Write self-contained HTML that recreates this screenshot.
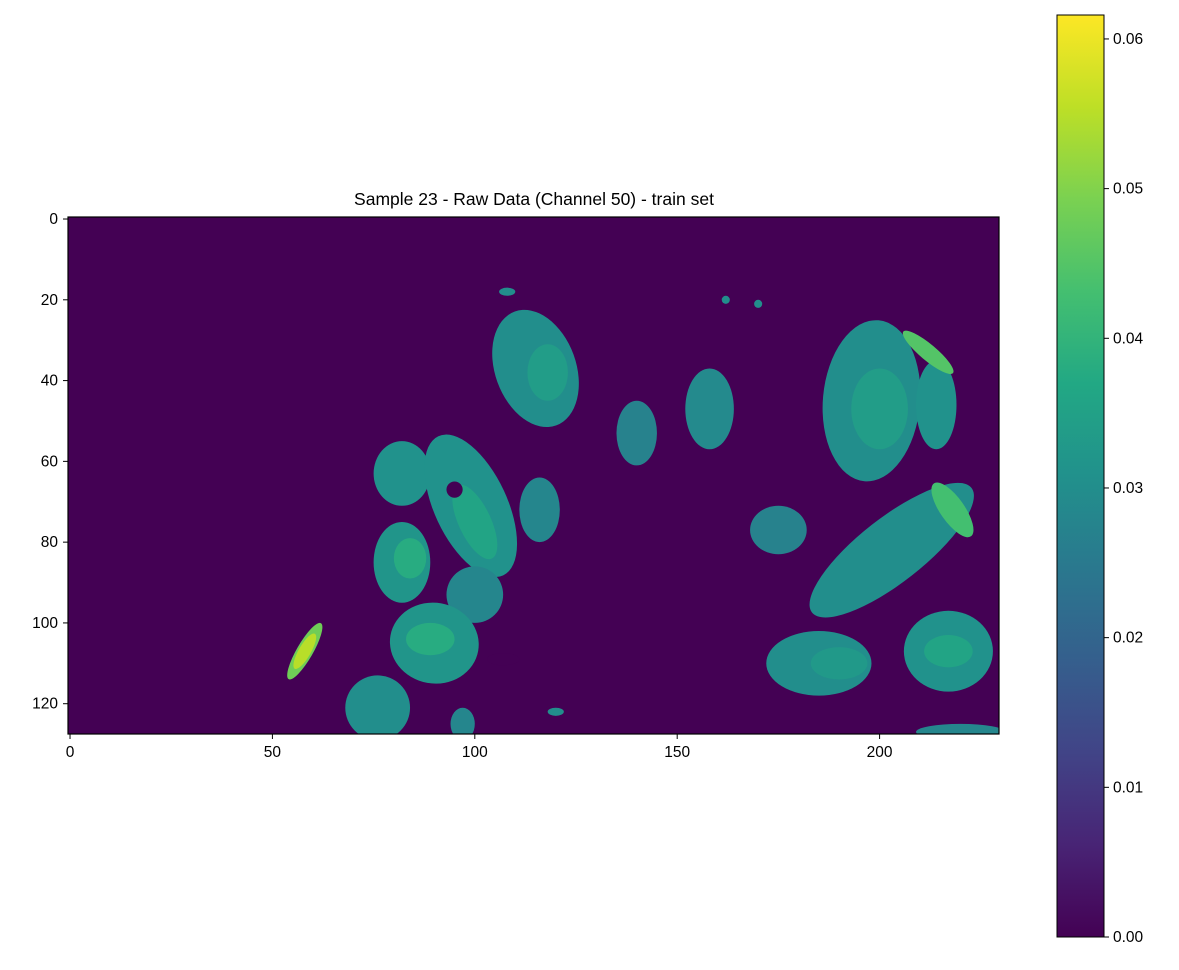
<!DOCTYPE html>
<html><head><meta charset="utf-8"><style>
body{margin:0;background:#fff;}
svg text{font-family:"Liberation Sans",sans-serif;fill:#000;}
</style></head><body>
<svg id="chart" width="1179" height="965" viewBox="0 0 1179 965">
<defs>
<clipPath id="clip"><rect x="68" y="217" width="931" height="517"/></clipPath>
<linearGradient id="vir" x1="0" y1="1" x2="0" y2="0">
<stop offset="0" stop-color="#440154"/><stop offset="0.1" stop-color="#482475"/><stop offset="0.2" stop-color="#414487"/><stop offset="0.3" stop-color="#355f8d"/><stop offset="0.4" stop-color="#2a788e"/><stop offset="0.5" stop-color="#21918c"/><stop offset="0.6" stop-color="#22a884"/><stop offset="0.7" stop-color="#44bf70"/><stop offset="0.8" stop-color="#7ad151"/><stop offset="0.9" stop-color="#bddf26"/><stop offset="1" stop-color="#fde725"/>
</linearGradient>
</defs>
<text x="534" y="205" font-size="17.5" text-anchor="middle">Sample 23 - Raw Data (Channel 50) - train set</text>
<rect x="68" y="217" width="931" height="517" fill="#440154"/>
<g id="blobs" clip-path="url(#clip)"></g>
<rect x="68" y="217" width="931" height="517" fill="none" stroke="#000" stroke-width="1.2"/>
<g id="xticks"></g><g id="yticks"></g>
<rect x="1057" y="15" width="47" height="922" fill="url(#vir)" stroke="#000" stroke-width="1"/>
<g id="cticks"></g>
</svg>
<script>
// blob data: [col, row, rx, ry, rotation, value]
const blobCols = [115,140,158,198,214,82,99,116,82,100,90,76,58,175,203,185,217,220,97,120,162,170,108];
const blobRows = [37,53,47,45,46,63,71,72,85,93,105,121,107,77,82,110,107,127,125,122,20,21,18];
const blobRx   = [10,5,6,12,5,7,9,5,7,7,11,8,2,7,25,13,11,11,3,2,1,1,2];
const blobRy   = [15,8,10,20,11,8,19,8,10,7,10,8,8,6,8,8,10,2,4,1,1,1,1];
const blobRot  = [-20,0,0,5,0,0,-25,0,0,0,10,0,30,0,-38,0,0,0,0,0,0,0,0];
const blobVals = [0.03,0.027,0.029,0.03,0.031,0.031,0.031,0.028,0.032,0.028,0.032,0.03,0.048,0.027,0.03,0.03,0.031,0.028,0.028,0.03,0.03,0.03,0.03];
// brighter cores
const coreCols=[118,200,84,100,89,217,218,212,58,190];
const coreRows=[38,47,84,75,104,107,72,33,107,110];
const coreRx=[5,7,4,4,6,6,3,8,1.5,7];
const coreRy=[7,10,5,10,4,4,8,2,5,4];
const coreRot=[0,0,0,-25,0,0,-35,40,30,0];
const coreVals=[0.034,0.034,0.038,0.036,0.038,0.036,0.043,0.045,0.055,0.033];
const xTicks=[0,50,100,150,200];
const yTicks=[0,20,40,60,80,100,120];
const cTicks=[0,0.01,0.02,0.03,0.04,0.05,0.06];
const cTickLabels=["0.00","0.01","0.02","0.03","0.04","0.05","0.06"];
const VMAX=0.0616;
const sx=c=>68+(c+0.5)*931/230;
const sy=r=>217+(r+0.5)*517/128;
const kx=931/230, ky=517/128;
const cy=v=>937-v/VMAX*922;
const stops=["#440154","#482475","#414487","#355f8d","#2a788e","#21918c","#22a884","#44bf70","#7ad151","#bddf26","#fde725"];
function hex(h){return [1,3,5].map(i=>parseInt(h.substr(i,2),16));}
function vir(v){let t=Math.max(0,Math.min(1,v/VMAX))*10;let i=Math.min(9,Math.floor(t));let f=t-i;let a=hex(stops[i]),b=hex(stops[i+1]);return "rgb("+a.map((x,k)=>Math.round(x+(b[k]-x)*f)).join(",")+")";}
const NS="http://www.w3.org/2000/svg";
const g=document.getElementById('blobs');
function ell(c,r,rx,ry,rot,v,name){const e=document.createElementNS(NS,'ellipse');
e.setAttribute('cx',sx(c));e.setAttribute('cy',sy(r));e.setAttribute('rx',rx*kx);e.setAttribute('ry',ry*ky);
e.setAttribute('transform','rotate('+rot+' '+sx(c)+' '+sy(r)+')');e.setAttribute('fill',vir(v));


g.appendChild(e);}
blobCols.forEach((c,i)=>ell(c,blobRows[i],blobRx[i],blobRy[i],blobRot[i],blobVals[i],'blob-'+i));
coreCols.forEach((c,i)=>ell(c,coreRows[i],coreRx[i],coreRy[i],coreRot[i],coreVals[i],'blob-core-'+i));
[[95,67,2,2],[107,109,4,1.5]].forEach((h,i)=>ell(h[0],h[1],h[2],h[3],0,0,'hole-'+i));
const xt=document.getElementById('xticks');
xTicks.forEach(t=>{const x=sx(t);const l=document.createElementNS(NS,'line');l.setAttribute('x1',x);l.setAttribute('x2',x);l.setAttribute('y1',734);l.setAttribute('y2',739);l.setAttribute('stroke','#000');


xt.appendChild(l);const s=document.createElementNS(NS,'text');s.setAttribute('x',x);s.setAttribute('y',757);s.setAttribute('font-size','15.5');s.setAttribute('text-anchor','middle');s.textContent=t;


xt.appendChild(s);});
const yt=document.getElementById('yticks');
yTicks.forEach(t=>{const y=sy(t);const l=document.createElementNS(NS,'line');l.setAttribute('x1',63);l.setAttribute('x2',68);l.setAttribute('y1',y);l.setAttribute('y2',y);l.setAttribute('stroke','#000');


yt.appendChild(l);const s=document.createElementNS(NS,'text');s.setAttribute('x',58);s.setAttribute('y',y+5);s.setAttribute('font-size','15.5');s.setAttribute('text-anchor','end');s.textContent=t;


yt.appendChild(s);});
const ct=document.getElementById('cticks');
cTicks.forEach((t,i)=>{const y=cy(t);const l=document.createElementNS(NS,'line');l.setAttribute('x1',1104);l.setAttribute('x2',1109);l.setAttribute('y1',y);l.setAttribute('y2',y);l.setAttribute('stroke','#000');


ct.appendChild(l);const s=document.createElementNS(NS,'text');s.setAttribute('x',1113);s.setAttribute('y',y+5);s.setAttribute('font-size','15.5');s.textContent=cTickLabels[i];


ct.appendChild(s);});
</script>
</body></html>
